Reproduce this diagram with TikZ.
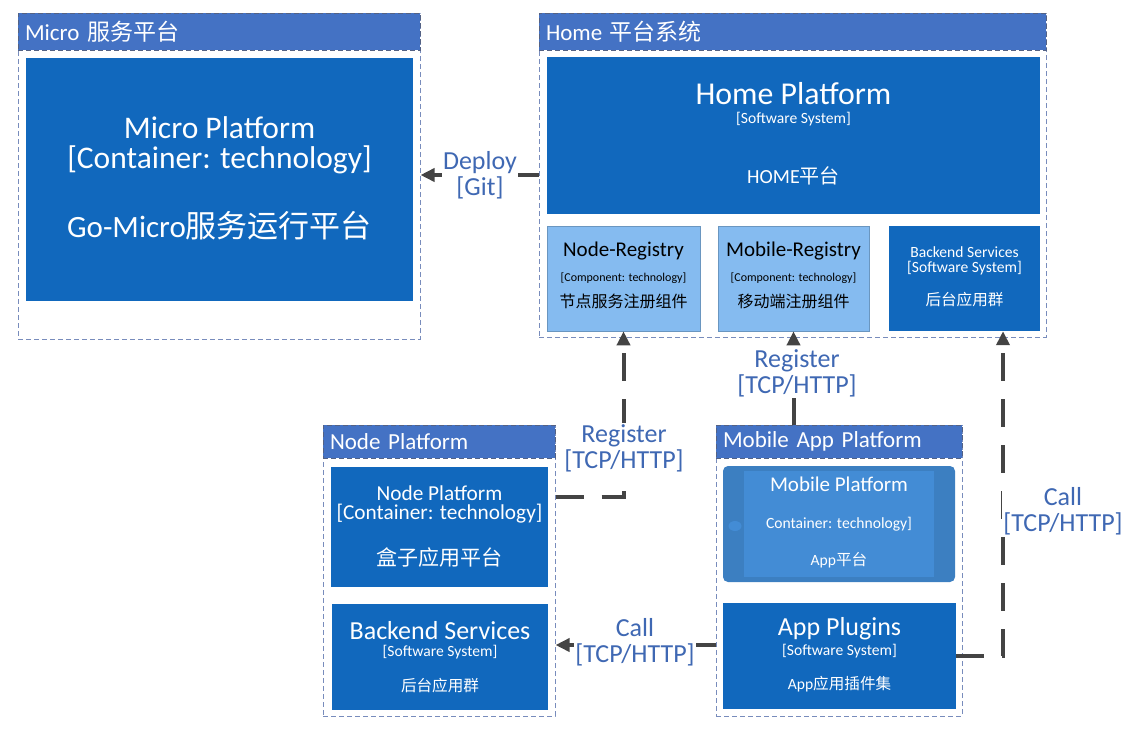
\documentclass[tikz,border=0pt]{standalone}
\usepackage{fontspec}
\setmainfont{Carlito}
\newfontfamily\cjk{Noto Sans CJK SC}
\usetikzlibrary{positioning}
\usetikzlibrary{arrows.meta}
\usetikzlibrary{calc}
\usetikzlibrary{shapes.geometric}
\newcommand{\fsz}[1]{\fontsize{#1}{#1}\selectfont}
\definecolor{hdrBlue}{RGB}{68,114,196}
\definecolor{sysBlue}{RGB}{17,104,189}
\definecolor{compBlue}{RGB}{133,187,240}
\definecolor{devBlue}{RGB}{60,127,193}
\definecolor{scrBlue}{RGB}{67,140,213}
\definecolor{grpLine}{RGB}{120,140,188}
\definecolor{relGray}{RGB}{68,68,68}
\definecolor{lblBlue}{RGB}{63,104,179}
\tikzset{grpStyle/.style={rectangle, draw=grpLine, dash pattern=on 5pt off 3pt, line width=1pt, inner sep=0pt}}
\tikzset{hdrStyle/.style={rectangle, fill=hdrBlue, draw=grpLine!70!black, dash pattern=on 5pt off 3pt, line width=0.8pt, text=white, font=\fsz{23}, inner xsep=7pt, inner ysep=0pt, align=left}}
\tikzset{sysStyle/.style={rectangle, fill=sysBlue, inner sep=0pt}, compStyle/.style={rectangle, fill=compBlue, draw=compBlue!80!black, line width=0.6pt, inner sep=0pt}}
\tikzset{txtW/.style={text=white, inner sep=0pt}, txtK/.style={text=black, inner sep=0pt}}
\tikzset{rel/.style={draw=relGray, line width=4pt, dash pattern=on 28pt off 18pt, -{Triangle[length=14pt,width=13pt]}}, relLbl/.style={text=lblBlue, font=\fsz{26}, align=center, fill=white, inner sep=1pt}}

\begin{document}
\begin{tikzpicture}[x=1pt, y=-1pt]
  \useasboundingbox (0,0) rectangle (1126,731);
  % groups
  \node at (219,176) [grpStyle, minimum width=402pt, minimum height=326pt] (microgrp){};
  \node at (792.5,175) [grpStyle, minimum width=507pt, minimum height=324pt] (homegrp){};
  \node at (439,570.5) [grpStyle, minimum width=232pt, minimum height=291pt] (nodegrp){};
  \node at (839,570.5) [grpStyle, minimum width=246pt, minimum height=291pt] (mobgrp){};
  \node at (219,31.5) [hdrStyle, minimum height=37pt, text width=388pt] (microhdr){Micro {\cjk 服务平台}};
  \node at (792.5,31.5) [hdrStyle, minimum height=37pt, text width=493pt] (homehdr){Home {\cjk 平台系统}};
  \node at (439,441.5) [hdrStyle, minimum height=33pt, text width=218pt] (nodehdr){Node Platform};
  \node at (839,441.5) [hdrStyle, minimum height=33pt, text width=232pt] (mobhdr){Mobile App Platform};

  % micro
  \node at (219.5,179.5) [sysStyle, minimum width=387pt, minimum height=243pt] (microplat){};
  \node at (219.5,128) [txtW, font=\fsz{31.5}] (microname){Micro Platform};
  \node at (219.5,160) [txtW, font=\fsz{31.5}] (microtech){[Container: technology]};
  \node at (219.5,226) [txtW, font=\fsz{31}] (microdesc){Go-Micro{\cjk 服务运行平台}};

  % home
  \node at (793.5,135.5) [sysStyle, minimum width=493pt, minimum height=157pt] (homeplat){};
  \node at (793.5,94) [txtW, font=\fsz{31.8}] (homename){Home Platform};
  \node at (793.5,119) [txtW, font=\fsz{15.6}] (homekind){[Software System]};
  \node at (793.5,176) [txtW, font=\fsz{20}] (homedesc){HOME{\cjk 平台}};
  \node at (623.5,278.5) [compStyle, minimum width=153pt, minimum height=105pt] (nodereg){};
  \node at (623.5,251) [txtK, font=\fsz{21}] (noderegname){Node-Registry};
  \node at (623.5,278) [txtK, font=\fsz{12}] (noderegtech){[Component: technology]};
  \node at (623.5,301) [txtK, font=\fsz{16}\cjk] (noderegdesc){节点服务注册组件};
  \node at (793.5,278.5) [compStyle, minimum width=151pt, minimum height=105pt] (mobilereg){};
  \node at (793.5,251) [txtK, font=\fsz{21}] (mobileregname){Mobile-Registry};
  \node at (793.5,278) [txtK, font=\fsz{12}] (mobileregtech){[Component: technology]};
  \node at (793.5,301) [txtK, font=\fsz{16}\cjk] (mobileregdesc){移动端注册组件};
  \node at (964.5,278.5) [sysStyle, minimum width=151pt, minimum height=105pt] (homeback){};
  \node at (964.5,252) [txtW, font=\fsz{15.6}] (homebackname){Backend Services};
  \node at (964.5,268) [txtW, font=\fsz{15.6}] (homebackkind){[Software System]};
  \node at (964.5,300) [txtW, font=\fsz{15.6}\cjk] (homebackdesc){后台应用群};

  % node platform
  \node at (439.5,527) [sysStyle, minimum width=217pt, minimum height=120pt] (nodeplat){};
  \node at (439.5,493) [txtW, font=\fsz{21.3}] (nodeplatname){Node Platform};
  \node at (439.5,514) [txtW, font=\fsz{21.3}] (nodeplattech){[Container: technology]};
  \node at (439.5,557) [txtW, font=\fsz{21}\cjk] (nodeplatdesc){盒子应用平台};
  \node at (440,657) [sysStyle, minimum width=216pt, minimum height=106pt] (nodeback){};
  \node at (440,631) [txtW, font=\fsz{26}] (nodebackname){Backend Services};
  \node at (440,652) [txtW, font=\fsz{15.6}] (nodebackkind){[Software System]};
  \node at (440,686) [txtW, font=\fsz{15.6}\cjk] (nodebackdesc){后台应用群};

  % mobile app platform
  \node at (839,524) [rectangle, rounded corners=5pt, fill=devBlue, minimum width=232pt, minimum height=116pt] (mobdev){};
  \node at (839,524) [rectangle, fill=scrBlue, minimum width=190pt, minimum height=106pt] (mobscreen){};
  \node at (735,526) [ellipse, fill=scrBlue, inner sep=0pt, minimum width=13pt, minimum height=10pt] (mobbtn){};
  \node at (839,484) [txtW, font=\fsz{21}] (mobname){Mobile Platform};
  \node at (839,524) [txtW, font=\fsz{15.6}] (mobtech){Container: technology]};
  \node at (839,560) [txtW, font=\fsz{15.6}] (mobdesc){App{\cjk 平台}};
  \node at (839.5,656) [sysStyle, minimum width=233pt, minimum height=106pt] (plugins){};
  \node at (839.5,629) [txtW, font=\fsz{26}] (pluginsname){App Plugins};
  \node at (839.5,651) [txtW, font=\fsz{15.6}] (pluginskind){[Software System]};
  \node at (839.5,684) [txtW, font=\fsz{15.6}] (pluginsdesc){App{\cjk 应用插件集}};

  % relations
  \draw [rel] (homegrp.west) -- (homegrp.west -| microgrp.east);
  \draw [rel] ($(nodegrp.north east)+(0,72)$) -| (nodereg.south);
  \draw [rel] (mobilereg.south |- mobgrp.north) -- (mobilereg.south);
  \draw [rel] ($(mobgrp.west |- plugins.center)+(0,-11)$) -- ($(nodegrp.east |- plugins.center)+(0,-11)$);
  \draw [rel] (plugins.east) -| ($(homeback.south)+(38.5,0)$);

  % relation labels
  \node at (480,175) [relLbl] (deploylbl){Deploy\\{[}Git{]}};
  \node at (624,448) [relLbl] (nodereglbl){Register\\{[}TCP/HTTP{]}};
  \node at (797,373) [relLbl] (mobreglbl){Register\\{[}TCP/HTTP{]}};
  \node at (635,642) [relLbl] (nodecalllbl){Call\\{[}TCP/HTTP{]}};
  \node at (1063,511) [relLbl] (homecalllbl){Call\\{[}TCP/HTTP{]}};
\end{tikzpicture}
\end{document}
